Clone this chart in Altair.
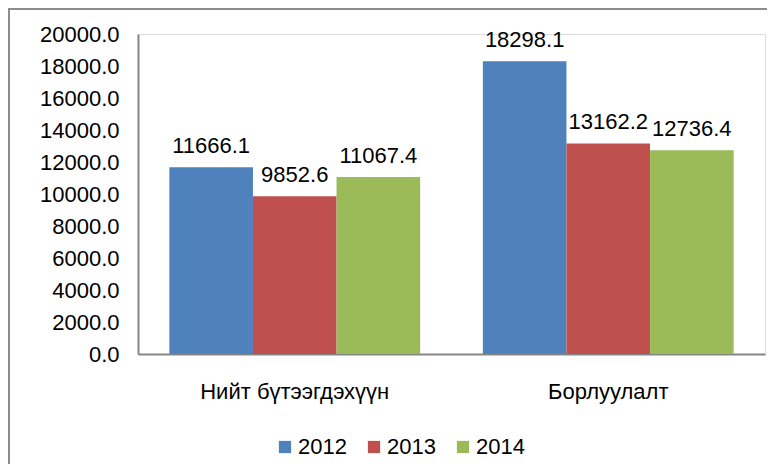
import altair as alt
import pandas as pd

categories = ["Нийт бүтээгдэхүүн", "Борлуулалт"]
years = ["2012", "2013", "2014"]
values_2012 = [11666.1, 18298.1]
values_2013 = [9852.6, 13162.2]
values_2014 = [11067.4, 12736.4]
colors = ["#4F81BD", "#C0504D", "#9BBB59"]

rows = []
for i, c in enumerate(categories):
    for y, vals in zip(years, [values_2012, values_2013, values_2014]):
        rows.append({"cat": c, "year": y, "value": vals[i]})
df = pd.DataFrame(rows)

FONT = "Liberation Sans"
FS = 22

x = alt.X("cat:N", sort=categories, title=None,
          scale=alt.Scale(paddingInner=0.2, paddingOuter=0.1),
          axis=alt.Axis(labelAngle=0, labelFontSize=FS, labelFont=FONT, labelColor="#000000",
                        ticks=False, domainColor="#868686", domainWidth=2, labelLimit=0,
                        labelPadding=27, labelBaseline="top"))
xo = alt.XOffset("year:N", sort=years)
y = alt.Y("value:Q", title=None,
          scale=alt.Scale(domain=[0, 20000], nice=False),
          axis=alt.Axis(values=list(range(0, 20001, 2000)), format=".1f", grid=False,
                        ticks=False, domainColor="#868686", domainWidth=2,
                        labelFontSize=FS, labelFont=FONT, labelColor="#000000",
                        labelPadding=19))

bars = alt.Chart(df).mark_bar().encode(
    x=x, xOffset=xo, y=y,
    color=alt.Color("year:N", sort=years, scale=alt.Scale(domain=years, range=colors),
                    legend=alt.Legend(title=None, orient="none", direction="horizontal",
                                      legendX=136, legendY=402,
                                      symbolType="square", symbolSize=150,
                                      symbolStrokeWidth=0,
                                      labelFontSize=FS, labelFont=FONT, labelColor="#000000",
                                      columnPadding=16, labelOffset=2)),
)

labels = alt.Chart(df).mark_text(baseline="bottom", dy=-9, fontSize=FS, font=FONT,
                                 color="#000000").encode(
    x=x, xOffset=xo, y=y,
    text=alt.Text("value:Q", format=".1f"),
)

border = alt.Chart(pd.DataFrame({"a": [0]})).mark_rect(
    fill=None, stroke="#8c8c8c", strokeWidth=2
).encode(
    x=alt.value(-129), x2=alt.value(800), y=alt.value(-25), y2=alt.value(600)
)

chart = alt.layer(border, bars, labels).properties(
    width=627, height=320,
    autosize=alt.AutoSizeParams(type="none"),
    padding={"left": 130, "top": 26, "right": 2, "bottom": 110},
).configure_view(stroke=None).configure(background="#ffffff")

chart.save("out.html", embed_options={"renderer": "svg", "actions": False})
